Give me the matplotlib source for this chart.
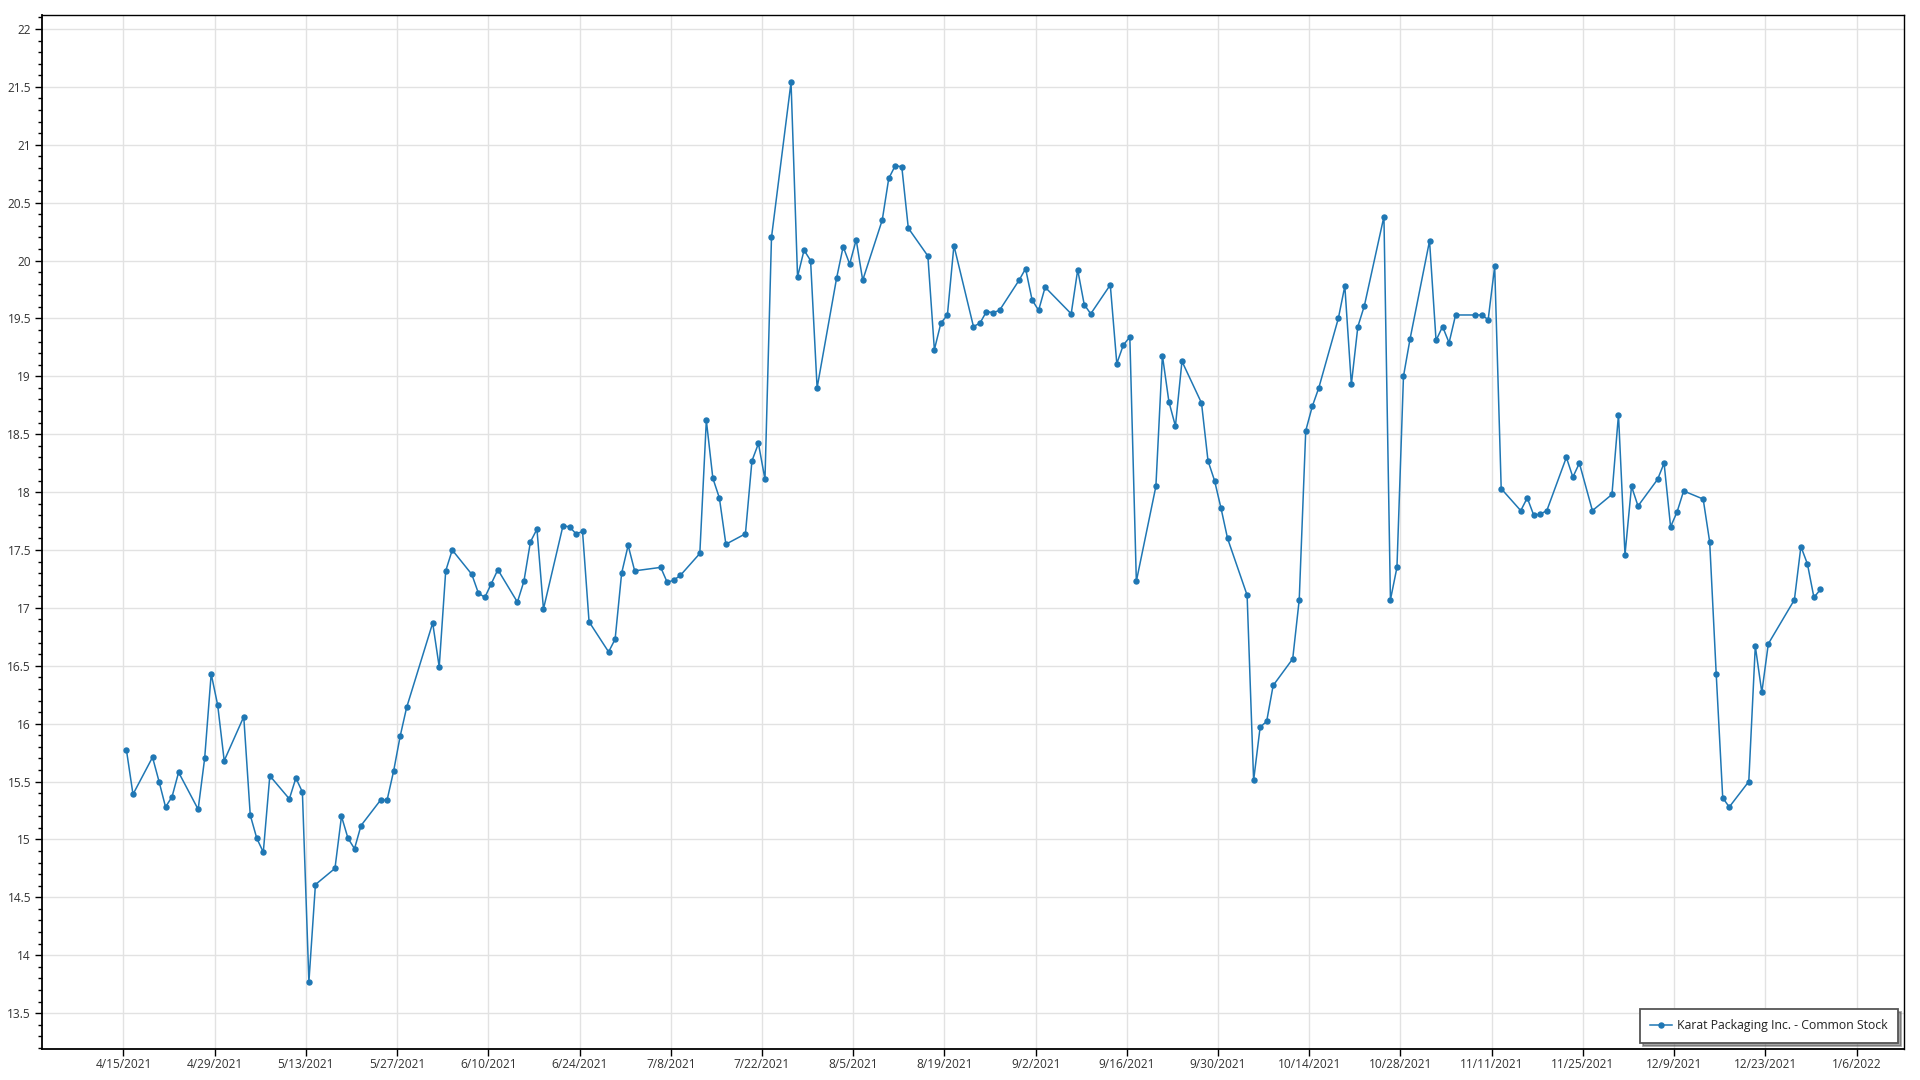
import numpy as np
import pandas as pd
import matplotlib
matplotlib.use("Agg")
import matplotlib.pyplot as plt
import matplotlib.dates as mdates
from matplotlib.ticker import MultipleLocator, FuncFormatter

plt.rcParams['font.family'] = ['Open Sans', 'DejaVu Sans']

# trading days (2021) and closing prices
dates = [
    "4/15", "4/16", "4/19", "4/20", "4/21", "4/22", "4/23", "4/26", "4/27", "4/28",
    "4/29", "4/30", "5/3", "5/4", "5/5", "5/6", "5/7", "5/10", "5/11", "5/12",
    "5/13", "5/14", "5/17", "5/18", "5/19", "5/20", "5/21", "5/24", "5/25", "5/26",
    "5/27", "5/28", "6/1", "6/2", "6/3", "6/4", "6/7", "6/8", "6/9", "6/10",
    "6/11", "6/14", "6/15", "6/16", "6/17", "6/18", "6/21", "6/22", "6/23", "6/24",
    "6/25", "6/28", "6/29", "6/30", "7/1", "7/2", "7/6", "7/7", "7/8", "7/9",
    "7/12", "7/13", "7/14", "7/15", "7/16", "7/19", "7/20", "7/21", "7/22", "7/23",
    "7/26", "7/27", "7/28", "7/29", "7/30", "8/2", "8/3", "8/4", "8/5", "8/6",
    "8/9", "8/10", "8/11", "8/12", "8/13", "8/16", "8/17", "8/18", "8/19", "8/20",
    "8/23", "8/24", "8/25", "8/26", "8/27", "8/30", "8/31", "9/1", "9/2", "9/3",
    "9/7", "9/8", "9/9", "9/10", "9/13", "9/14", "9/15", "9/16", "9/17", "9/20",
    "9/21", "9/22", "9/23", "9/24", "9/27", "9/28", "9/29", "9/30", "10/1", "10/4",
    "10/5", "10/6", "10/7", "10/8", "10/11", "10/12", "10/13", "10/14", "10/15", "10/18",
    "10/19", "10/20", "10/21", "10/22", "10/25", "10/26", "10/27", "10/28", "10/29", "11/1",
    "11/2", "11/3", "11/4", "11/5", "11/8", "11/9", "11/10", "11/11", "11/12", "11/15",
    "11/16", "11/17", "11/18", "11/19", "11/22", "11/23", "11/24", "11/26", "11/29", "11/30",
    "12/1", "12/2", "12/3", "12/6", "12/7", "12/8", "12/9", "12/10", "12/13", "12/14",
    "12/15", "12/16", "12/17", "12/20", "12/21", "12/22", "12/23", "12/27", "12/28", "12/29",
    "12/30", "12/31",
]
prices = [
    15.77, 15.39, 15.71, 15.50, 15.28, 15.37, 15.58, 15.26, 15.70, 16.43,
    16.16, 15.68, 16.06, 15.21, 15.01, 14.89, 15.55, 15.35, 15.53, 15.41,
    13.77, 14.61, 14.75, 15.20, 15.01, 14.92, 15.12, 15.34, 15.34, 15.59,
    15.89, 16.14, 16.87, 16.49, 17.32, 17.50, 17.29, 17.13, 17.09, 17.21,
    17.33, 17.05, 17.23, 17.57, 17.68, 16.99, 17.71, 17.70, 17.64, 17.66,
    16.88, 16.62, 16.73, 17.30, 17.54, 17.32, 17.35, 17.22, 17.24, 17.28,
    17.47, 18.62, 18.12, 17.95, 17.55, 17.64, 18.27, 18.42, 18.11, 20.20,
    21.54, 19.86, 20.09, 20.00, 18.90, 19.85, 20.12, 19.97, 20.18, 19.83,
    20.35, 20.71, 20.82, 20.81, 20.28, 20.04, 19.23, 19.46, 19.53, 20.13,
    19.43, 19.46, 19.56, 19.55, 19.57, 19.83, 19.93, 19.66, 19.57, 19.77,
    19.54, 19.92, 19.62, 19.54, 19.79, 19.11, 19.27, 19.34, 17.23, 18.05,
    19.18, 18.78, 18.57, 19.13, 18.77, 18.27, 18.10, 17.86, 17.60, 17.11,
    15.51, 15.97, 16.02, 16.33, 16.56, 17.07, 18.53, 18.74, 18.90, 19.50,
    19.78, 18.93, 19.43, 19.61, 20.38, 17.07, 17.35, 19.00, 19.32, 20.17,
    19.31, 19.43, 19.29, 19.53, 19.53, 19.53, 19.49, 19.95, 18.03, 17.84,
    17.95, 17.80, 17.81, 17.84, 18.30, 18.13, 18.25, 17.84, 17.98, 18.67,
    17.46, 18.05, 17.88, 18.11, 18.25, 17.70, 17.83, 18.01, 17.94, 17.57,
    16.43, 15.36, 15.28, 15.50, 16.67, 16.27, 16.69, 17.07, 17.53, 17.38,
    17.09, 17.16,
]
series_name = "Karat Packaging Inc. - Common Stock"

x = pd.to_datetime([d + "/2021" for d in dates], format="%m/%d/%Y") + pd.Timedelta(hours=11)

fig = plt.figure(figsize=(19.2, 10.8), dpi=100)
ax = fig.add_axes([0.0219, 0.0287, 0.9698, 0.9573])

ax.plot(x, prices, color="#1f77b4", lw=1.1, marker="o", ms=3.6,
        label=series_name, zorder=3)

ax.set_xlim(pd.Timestamp("2021-04-02 12:00"), pd.Timestamp("2022-01-13 07:00"))
ax.set_ylim(13.19, 22.12)

ticks = pd.date_range("2021-04-15", "2022-01-06", freq="14D")
ax.set_xticks(ticks)
ax.xaxis.set_major_formatter(FuncFormatter(
    lambda v, p: (lambda d: f"{d.month}/{d.day}/{d.year}")(mdates.num2date(v))))
ax.yaxis.set_major_locator(MultipleLocator(0.5))
ax.yaxis.set_minor_locator(MultipleLocator(0.1))
ax.yaxis.set_major_formatter(FuncFormatter(lambda v, p: f"{v:g}"))

ax.grid(True, which="major", color="#e2e2e2", lw=1)
ax.set_axisbelow(True)
ax.tick_params(axis="both", which="major", length=5, width=1, labelsize=8.6, colors="#000000",
               labelcolor="#333333")
ax.tick_params(axis="x", which="major", pad=1.5)
ax.tick_params(axis="y", which="major", pad=3)
ax.tick_params(axis="y", which="minor", length=3, width=1, color="#000000")
for s in ax.spines.values():
    s.set_color("#000000")
    s.set_linewidth(1)
ax.spines["left"].set_linewidth(1.3)
ax.spines["bottom"].set_linewidth(1.3)

leg = ax.legend(loc="lower right", fontsize=8.8, frameon=True, fancybox=False,
                shadow=True, borderpad=0.85, handlelength=1.8, handletextpad=0.4,
                borderaxespad=0, bbox_to_anchor=(0.997, 0.006))
leg.get_frame().set_edgecolor("#555555")
leg.get_frame().set_linewidth(1.3)
for t in leg.get_texts():
    t.set_color("#222222")

fig.savefig("out.png", dpi=100)
